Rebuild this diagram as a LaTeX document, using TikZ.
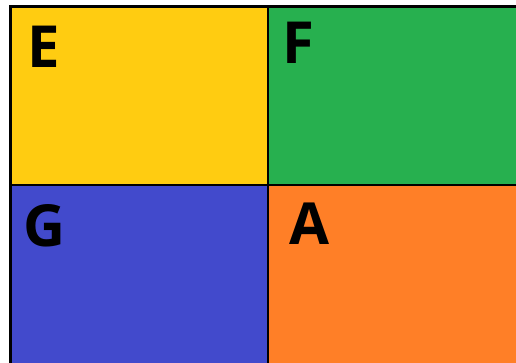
\documentclass[tikz,border=0pt]{standalone}
\usepackage{fontspec}
\setmainfont{Open Sans}
\definecolor{cyellow}{RGB}{255,204,17}
\definecolor{cgreen}{RGB}{39,176,79}
\definecolor{cblue}{RGB}{66,74,204}
\definecolor{corange}{RGB}{255,127,39}
\begin{document}
\begin{tikzpicture}[x=1pt,y=-1pt,
  cell/.style={draw=black,line width=2.5pt},
  lbl/.style={inner sep=0pt,anchor=base west,font=\fontsize{58}{58}\selectfont\bfseries,text=black}]
\useasboundingbox (0,0) rectangle (516,363);
\clip (0,0) rectangle (516,363);
\path[cell,fill=cyellow] (10.5,6.5) rectangle (268,185);
\path[cell,fill=cgreen] (268,6.5) rectangle (520,185);
\path[cell,fill=cblue] (10.5,185) rectangle (268,367);
\path[cell,fill=corange] (268,185) rectangle (520,367);
\node[lbl] (e) at (27,68) {E};
\node[lbl] (f) at (282,64) {F};
\node[lbl] (g) at (23,246) {G};
\node[lbl] (a) at (289,244) {A};
\end{tikzpicture}
\end{document}
